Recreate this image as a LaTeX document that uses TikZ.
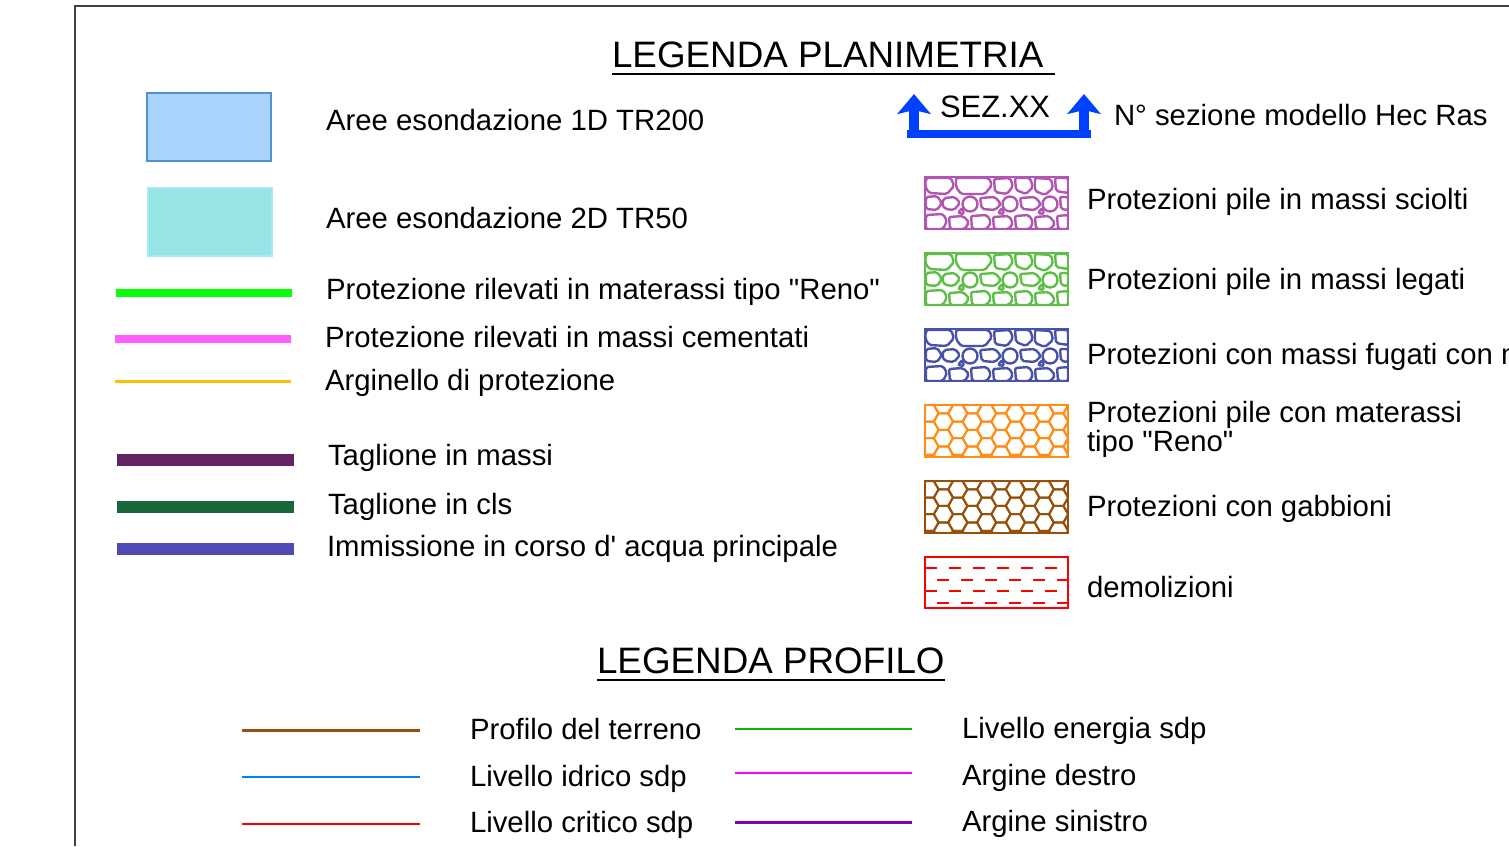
\documentclass[tikz,border=0pt]{standalone}
\usepackage{fontspec}
\setmainfont{Liberation Sans}[Ligatures=TeXOff]
\usetikzlibrary{
  arrows.meta,
  positioning
}
\definecolor{areaBlue}{RGB}{168,212,252}
\definecolor{areaBlueEdge}{RGB}{84,142,212}
\definecolor{areaCyan}{RGB}{150,228,228}
\definecolor{areaCyanEdge}{RGB}{166,232,250}
\definecolor{renoGreen}{RGB}{8,255,8}
\definecolor{cementPink}{RGB}{255,95,255}
\definecolor{argOrange}{RGB}{255,190,0}
\definecolor{taglPurple}{RGB}{100,35,100}
\definecolor{taglGreen}{RGB}{22,104,56}
\definecolor{immBlue}{RGB}{82,74,180}
\definecolor{sezBlue}{RGB}{0,64,255}
\definecolor{scioltiCol}{RGB}{176,86,176}
\definecolor{legatiCol}{RGB}{94,190,72}
\definecolor{fugatiCol}{RGB}{72,82,170}
\definecolor{renoCol}{RGB}{255,140,20}
\definecolor{gabbCol}{RGB}{150,80,10}
\definecolor{profBrown}{RGB}{150,80,20}
\definecolor{profBlue}{RGB}{0,130,255}
\definecolor{profRed}{RGB}{255,0,0}
\definecolor{profGreen}{RGB}{10,180,10}
\definecolor{profPink}{RGB}{255,0,255}
\definecolor{profPurple}{RGB}{130,0,180}
\tikzset{
  % For the page frame.
  frame/.style={
    line width=1.5pt,
    draw=black!75},
%
  % For the headings.
  heading/.style={
    anchor=base west,
    inner sep=0pt,
    outer sep=0pt,
    font=\fontsize{27.6}{30}\selectfont},
  % For the underline of a heading.
  rule/.style={
    line width=1pt},
%
  % For the legend texts.
  legend text/.style={
    anchor=base west,
    inner sep=0pt,
    outer sep=0pt,
    align=left,
    font=\fontsize{22}{19.5}\selectfont},
%
  % For the flooded-area swatches.
  area/.style={
    line width=1.2pt},
%
  % For the frame of a hatched box.
  patch/.style={
    line width=2.2pt},
  % For the stones inside a box.
  stone/.style={
    line width=1.8pt,
    rounded corners=1.5pt},
  % For the cells of the gabions.
  cell/.style={
    line width=1.5pt},
%
  % For the section arrows.
  section/.style={
    line width=7.5pt,
    -{Stealth[length=15pt, width=25pt, inset=3pt]}},
}

% The stones of one box, 143 by 52.
\newcommand\stonefill[1]{%
  % top row
  \draw[stone, #1] (1,1) -- (26,1) -- (29,9) -- (22,17) -- (4,16) -- (0,9) -- cycle;
  \draw[stone, #1] (31,1) -- (64,1) -- (67,8) -- (60,17) -- (36,17) -- (31,10) -- cycle;
  \draw[stone, #1] (69,2) -- (85,1) -- (88,9) -- (82,17) -- (70,15) -- cycle;
  \draw[stone, #1] (90,1) -- (105,1) -- (108,10) -- (101,17) -- (91,13) -- cycle;
  \draw[stone, #1] (110,1) -- (126,2) -- (128,11) -- (120,18) -- (110,14) -- cycle;
  \draw[stone, #1] (130,1) -- (143,1) -- (143,16) -- (131,14) -- cycle;
  % middle row
  \draw[stone, #1] (1,20) -- (12,19) -- (17,26) -- (12,33) -- (1,32) -- cycle;
  \draw[stone, #1] (19,21) -- (30,20) -- (35,26) -- (29,33) -- (20,32) -- (17,27) -- cycle;
  \draw[stone, #1] (45,27) circle (7.5);
  \draw[stone, #1] (55,21) -- (70,20) -- (76,27) -- (70,33) -- (57,32) -- cycle;
  \draw[stone, #1] (85,27) circle (7.5);
  \draw[stone, #1] (95,21) -- (110,20) -- (116,27) -- (110,33) -- (97,32) -- cycle;
  \draw[stone, #1] (125,27) circle (7.5);
  \draw[stone, #1] (135,20) -- (143,20) -- (143,33) -- (136,32) -- cycle;
  \draw[stone, #1] (33,36) -- (37,31) -- (39,37) -- cycle;
  \draw[stone, #1] (73,36) -- (77,31) -- (79,37) -- cycle;
  \draw[stone, #1] (113,36) -- (117,31) -- (119,37) -- cycle;
  % bottom row
  \draw[stone, #1] (1,38) -- (18,37) -- (22,44) -- (18,52) -- (1,52) -- cycle;
  \draw[stone, #1] (24,40) -- (38,39) -- (44,45) -- (40,52) -- (25,52) -- cycle;
  \draw[stone, #1] (46,39) -- (62,38) -- (66,45) -- (62,52) -- (47,52) -- cycle;
  \draw[stone, #1] (68,40) -- (84,39) -- (88,46) -- (84,52) -- (69,52) -- cycle;
  \draw[stone, #1] (90,39) -- (104,38) -- (108,45) -- (105,52) -- (91,52) -- cycle;
  \draw[stone, #1] (110,40) -- (124,39) -- (130,46) -- (126,52) -- (111,52) -- cycle;
  \draw[stone, #1] (132,39) -- (143,38) -- (143,52) -- (133,52) -- cycle;
}

% Box of stones: colour, left, top.
\newcommand\stonepatch[3]{%
  \begin{scope}[shift={(#2,#3)}]
    \clip (0,0) rectangle (143,52);
    \stonefill{#1}
  \end{scope}
  \draw[patch, #1] (#2,#3) rectangle ++(143,52);
}

% Box of gabion cells: colour, left, top.
\newcommand\hexpatch[3]{%
  \begin{scope}[shift={(#2,#3)}]
    \clip (0,0) rectangle (143,52);
    \foreach \i in {0,...,10} {
      \foreach \j in {-1,...,3} {
        \pgfmathsetmacro\hx{4+14.4*\i}
        \pgfmathsetmacro\hy{8.3+16.6*\j+8.3*mod(\i,2)}
        \draw[cell, #1] (\hx,\hy) +(0:9.6) -- +(60:9.6) -- +(120:9.6)
          -- +(180:9.6) -- +(240:9.6) -- +(300:9.6) -- cycle;
      }
    }
  \end{scope}
  \draw[patch, #1] (#2,#3) rectangle ++(143,52);
}

\begin{document}
\begin{tikzpicture}[x=0.75pt, y=-0.75pt]
  \useasboundingbox (0,0) rectangle (1509,846);
  \clip (0,0) rectangle (1509,846);

  \draw[frame] (75,846) -- (75,6) -- (1509,6);

  % Plan legend, left column.
  \node[heading] (planTitle) at (612,67) {LEGENDA PLANIMETRIA};
  \draw[rule] (612,74) -- (1055,74);

  \draw[area, fill=areaBlue, draw=areaBlueEdge] (147,93) rectangle (271,161);
  \node[legend text] (tr200) at (326,130) {Aree esondazione 1D TR200};

  \draw[area, fill=areaCyan, draw=areaCyanEdge] (148,188) rectangle (272,256);
  \node[legend text] (tr50) at (326,228) {Aree esondazione 2D TR50};

  \coordinate (renoA) at (116,293);
  \coordinate (renoB) at (292,293);
  \draw[line width=6.2pt, renoGreen] (renoA) -- (renoB);
  \node[legend text] (renoText) at (326,299) {Protezione rilevati in materassi tipo "Reno"};

  \coordinate (cemA) at (115,339);
  \coordinate (cemB) at (291,339);
  \draw[line width=6pt, cementPink] (cemA) -- (cemB);
  \node[legend text] (cemText) at (325,347) {Protezione rilevati in massi cementati};

  \coordinate (argA) at (115,381.5);
  \coordinate (argB) at (291,381.5);
  \draw[line width=2.8pt, argOrange] (argA) -- (argB);
  \node[legend text] (argText) at (325,390) {Arginello di protezione};

  \coordinate (tmA) at (117,460);
  \coordinate (tmB) at (294,460);
  \draw[line width=8.8pt, taglPurple] (tmA) -- (tmB);
  \node[legend text] (tmText) at (328,465) {Taglione in massi};

  \coordinate (tcA) at (117,506.5);
  \coordinate (tcB) at (294,506.5);
  \draw[line width=9pt, taglGreen] (tcA) -- (tcB);
  \node[legend text] (tcText) at (328,514) {Taglione in cls};

  \coordinate (imA) at (117,549);
  \coordinate (imB) at (294,549);
  \draw[line width=9.2pt, immBlue] (imA) -- (imB);
  \node[legend text] (imText) at (327,556) {Immissione in corso d' acqua principale};

  % Plan legend, right column.
  \coordinate (sezL) at (914,138);
  \coordinate (sezR) at (1084,138);
  \draw[line width=6pt, sezBlue] (907,134) -- (1091,134);
  \draw[section, sezBlue] (sezL) -- (914,94);
  \draw[section, sezBlue] (sezR) -- (1084,94);
  \node[legend text, font=\fontsize{23.2}{24}\selectfont] (sezText) at (940,117) {SEZ.XX};
  \node[legend text] (sezLabel) at (1114,125) {N° sezione modello Hec Ras};

  \stonepatch{scioltiCol}{925}{177}
  \node[legend text] (scioltiText) at (1087,209) {Protezioni pile in massi sciolti};

  \stonepatch{legatiCol}{925}{253}
  \node[legend text] (legatiText) at (1087,289) {Protezioni pile in massi legati};

  \stonepatch{fugatiCol}{925}{329}
  \node[legend text] (fugatiText) at (1087,364) {Protezioni con massi fugati con m};

  \hexpatch{renoCol}{925}{405}
  \node[legend text] (renoPile) at (1087,451) {Protezioni pile con materassi\\tipo "Reno"};

  \hexpatch{gabbCol}{925}{481}
  \node[legend text] (gabbText) at (1087,516) {Protezioni con gabbioni};

  \begin{scope}[profRed, line width=1.5pt]
    \draw[dash pattern=on 9pt off 9pt] (925,568) -- (1068,568);
    \draw[dash pattern=on 9pt off 9pt, dash phase=9pt] (925,579.5) -- (1068,579.5);
    \draw[dash pattern=on 9pt off 9pt] (925,591) -- (1068,591);
    \draw[dash pattern=on 9pt off 9pt, dash phase=9pt] (925,603) -- (1068,603);
    \draw (925,557) rectangle (1068,608);
  \end{scope}
  \node[legend text] (demText) at (1087,597) {demolizioni};

  % Profile legend.
  \node[heading] (profTitle) at (597,673) {LEGENDA PROFILO};
  \draw[rule] (597,680) -- (945,680);

  \draw[line width=2pt, profBrown] (242,730.5) -- (420,730.5);
  \node[legend text] (terreno) at (470,739) {Profilo del terreno};
  \draw[line width=2pt, profBlue] (242,777) -- (420,777);
  \node[legend text] (idrico) at (470,786) {Livello idrico sdp};
  \draw[line width=1.5pt, profRed] (242,823.5) -- (420,823.5);
  \node[legend text] (critico) at (470,832) {Livello critico sdp};

  \draw[line width=1.8pt, profGreen] (735,729) -- (912,729);
  \node[legend text] (energia) at (962,738) {Livello energia sdp};
  \draw[line width=1.6pt, profPink] (735,773) -- (912,773);
  \node[legend text] (destro) at (962,785) {Argine destro};
  \draw[line width=1.6pt, profPurple] (735,822.5) -- (912,822.5);
  \node[legend text] (sinistro) at (962,831) {Argine sinistro};
\end{tikzpicture}
\end{document}
